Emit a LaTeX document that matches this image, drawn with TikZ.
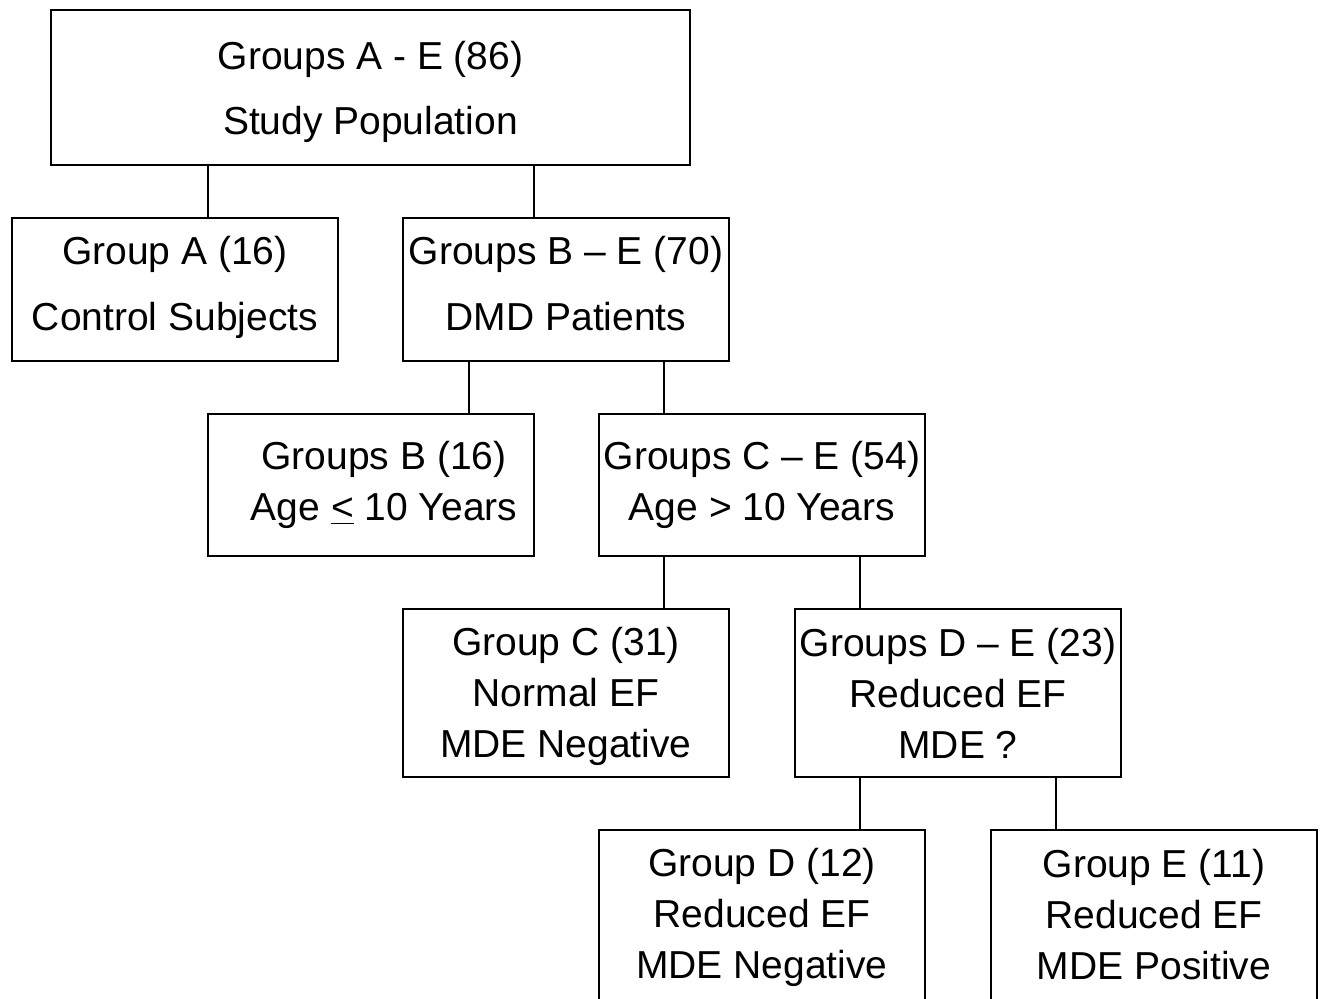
\documentclass[tikz,border=0pt]{standalone}
\usepackage{fontspec}
\setmainfont{Liberation Sans}
\tikzset{
  box/.style={draw=black, line width=1pt, inner sep=0pt, outer sep=0pt, align=center, text=black},
  wide/.style={minimum width=319.5pt},
  std/.style={minimum width=163pt},
  bigfont/.style={font=\fontsize{19.5pt}{32.5pt}\selectfont},
  smallfont/.style={font=\fontsize{19.5pt}{25.5pt}\selectfont},
  link/.style={draw=black, line width=1pt}
}
\begin{document}
\begin{tikzpicture}[x=0.5pt,y=-0.5pt]
\useasboundingbox (0,0) rectangle (1323,998);
\clip (0,0) rectangle (1323,998);
\node[box, wide, bigfont, minimum height=77.5pt] (root) at (370.5,87.5) {\rule{0pt}{18.7pt}Groups A - E (86)\\Study Population};
\node[box, std, bigfont, minimum height=71.5pt] (A) at (175,289.5) {Group A (16)\\[0.5pt]Control Subjects\rule[-6.1pt]{0pt}{6.1pt}};
\node[box, std, bigfont, minimum height=71.5pt] (BE) at (566,289.5) {Groups B \textendash{} E (70)\\[0.5pt]DMD Patients\rule[-6pt]{0pt}{6pt}};
\node[box, std, smallfont, minimum height=71pt] (B) at (371,485) {\hspace*{13pt}Groups B (16)\\\hspace*{13pt}Age \underline{<} 10 Years};
\node[box, std, smallfont, minimum height=71pt] (CE) at (762,485) {Groups C \textendash{} E (54)\\Age > 10 Years};
\node[box, std, smallfont, minimum height=84pt] (C) at (566,693) {\rule{0pt}{17.2pt}Group C (31)\\Normal EF\\MDE Negative};
\node[box, std, smallfont, minimum height=84pt] (DE) at (958,693) {Groups D \textendash{} E (23)\\Reduced EF\\MDE ?};
\node[box, std, smallfont, minimum height=85pt] (D) at (762,915) {\rule{0pt}{16.2pt}Group D (12)\\Reduced EF\\MDE Negative};
\node[box, std, smallfont, minimum height=85pt] (E) at (1154,915) {Group E (11)\\Reduced EF\\MDE Positive};
\draw[link] ([xshift=78.5pt]root.south west) -- ([xshift=78.5pt]root.south west |- A.north);
\draw[link] ([xshift=-78pt]root.south east) -- ([xshift=-78pt]root.south east |- BE.north);
\draw[link] ([xshift=33pt]BE.south west) -- ([xshift=33pt]BE.south west |- B.north);
\draw[link] ([xshift=-32.5pt]BE.south east) -- ([xshift=-32.5pt]BE.south east |- CE.north);
\draw[link] ([xshift=32.5pt]CE.south west) -- ([xshift=32.5pt]CE.south west |- C.north);
\draw[link] ([xshift=-32.5pt]CE.south east) -- ([xshift=-32.5pt]CE.south east |- DE.north);
\draw[link] ([xshift=32.5pt]DE.south west) -- ([xshift=32.5pt]DE.south west |- D.north);
\draw[link] ([xshift=-32.5pt]DE.south east) -- ([xshift=-32.5pt]DE.south east |- E.north);
\end{tikzpicture}
\end{document}
